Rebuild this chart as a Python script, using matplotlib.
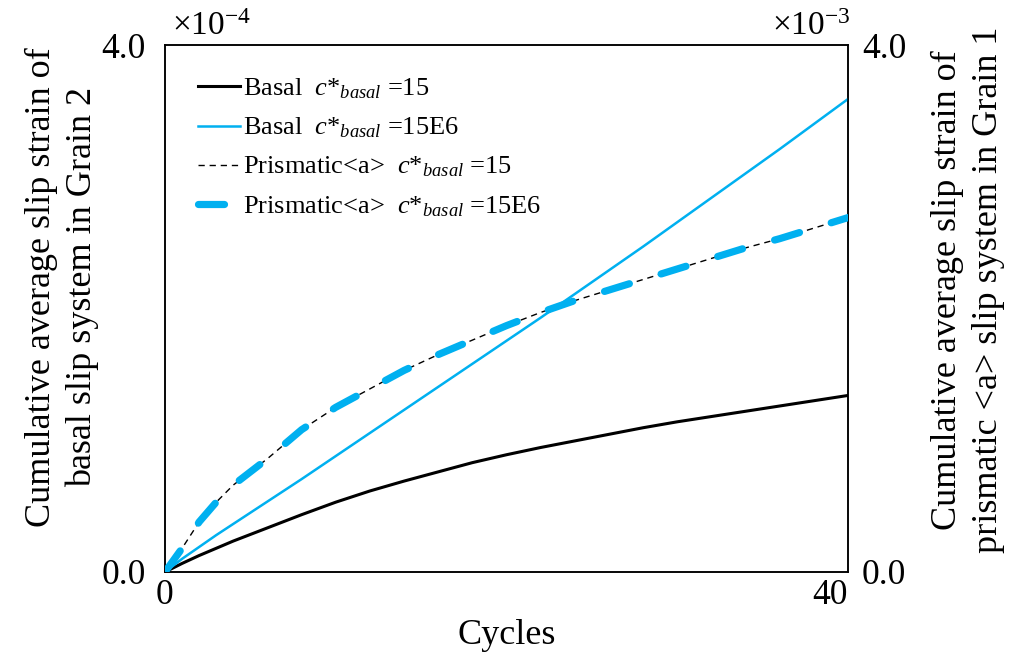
import matplotlib
matplotlib.use("Agg")
import matplotlib.pyplot as plt

plt.rcParams['font.family'] = ['Liberation Serif', 'DejaVu Serif']
plt.rcParams['mathtext.fontset'] = 'custom'
plt.rcParams['mathtext.rm'] = 'Liberation Serif'
plt.rcParams['mathtext.it'] = 'Liberation Serif:italic'

# Cycle numbers
cycles = [0, 1, 2, 3, 4, 6, 8, 10, 12, 14, 16, 18, 20, 22, 24, 26, 28, 30, 32, 34, 36, 38, 40]

# Basal slip strain in Grain 2 (x1e-4)
basal_c15 = [0, 0.065, 0.125, 0.18, 0.235, 0.335, 0.435, 0.53, 0.615, 0.69, 0.76, 0.83, 0.89,
             0.945, 0.995, 1.045, 1.095, 1.14, 1.18, 1.22, 1.26, 1.30, 1.34]
basal_c15e6 = [0, 0.10, 0.19, 0.28, 0.365, 0.535, 0.705, 0.88, 1.055, 1.23, 1.405, 1.58, 1.755,
               1.93, 2.11, 2.29, 2.47, 2.655, 2.84, 3.025, 3.21, 3.40, 3.59]

# Prismatic<a> slip strain in Grain 1 (x1e-3)
prism_c15 = [0, 0.18, 0.38, 0.53, 0.66, 0.86, 1.08, 1.25, 1.39, 1.53, 1.65, 1.76, 1.87,
             1.97, 2.06, 2.14, 2.22, 2.30, 2.38, 2.46, 2.53, 2.61, 2.69]
prism_c15e6 = [0, 0.18, 0.38, 0.53, 0.66, 0.86, 1.08, 1.25, 1.39, 1.53, 1.65, 1.76, 1.87,
               1.97, 2.06, 2.14, 2.22, 2.30, 2.38, 2.46, 2.53, 2.61, 2.69]

BLUE = '#00B0F0'
TICK_FS = 25.5
LABEL_FS = 26

fig = plt.figure(figsize=(10.12, 6.57), dpi=100)
ax = fig.add_axes([165/1012, 1-572/657, (848-165)/1012, (572-45)/657])
ax2 = ax.twinx()

l1, = ax.plot(cycles, basal_c15, color='black', lw=2.2, zorder=3)
l2, = ax.plot(cycles, basal_c15e6, color=BLUE, lw=1.8, zorder=3)
l3, = ax2.plot(cycles, prism_c15, color='black', lw=1.0, ls=(0, (4.5, 3.5)), zorder=2)
l4, = ax2.plot(cycles, prism_c15e6, color=BLUE, lw=5.2, ls=(0, (3.6, 4.6)),
               solid_capstyle='round', dash_capstyle='round', zorder=4)

ax.set_xlim(0, 40)
ax.set_ylim(0, 4.0)
ax2.set_ylim(0, 4.0)
ax.set_xticks([0, 40])
ax.set_xticklabels(['0', '40'])
ax.set_yticks([0, 4.0])
ax.set_yticklabels(['0.0', '4.0'])
ax2.set_yticks([0, 4.0])
ax2.set_yticklabels(['0.0', '4.0'])

ax.tick_params(axis='x', length=0, labelsize=TICK_FS, pad=5)
ax.tick_params(axis='y', length=0, labelsize=TICK_FS, pad=14)
ax2.tick_params(axis='y', length=0, labelsize=TICK_FS, pad=10)
ax.get_xticklabels()[-1].set_horizontalalignment('right')
for a in (ax, ax2):
    for s in a.spines.values():
        s.set_linewidth(1.1)

ax.set_xlabel('Cycles', fontsize=LABEL_FS, labelpad=5)

fig.text(62/1012, 1-287/657, 'Cumulative average slip strain of\nbasal slip system in Grain 2',
         rotation=90, ha='center', va='center', fontsize=LABEL_FS, linespacing=1.3)
fig.text(968/1012, 1-290/657,
         'Cumulative average slip strain of\nprismatic <a> slip system in Grain 1',
         rotation=90, ha='center', va='center', fontsize=LABEL_FS, linespacing=1.3)

ax.text(0.01, 1.005, r'$\times10^{-4}$', transform=ax.transAxes, fontsize=24,
        ha='left', va='bottom')
ax.text(1.003, 1.005, r'$\times10^{-3}$', transform=ax.transAxes, fontsize=24,
        ha='right', va='bottom')

labels = [r'Basal  $c$*$_{basal}$ =15',
          r'Basal  $c$*$_{basal}$ =15E6',
          r'Prismatic<a>  $c$*$_{basal}$ =15',
          r'Prismatic<a>  $c$*$_{basal}$ =15E6']
leg = ax.legend([l1, l2, l3, l4], labels, loc='upper left', frameon=False,
                fontsize=19, handlelength=1.6, handletextpad=0.12,
                labelspacing=0.55, bbox_to_anchor=(0.013, 0.985))

fig.savefig('out.png', dpi=100)
